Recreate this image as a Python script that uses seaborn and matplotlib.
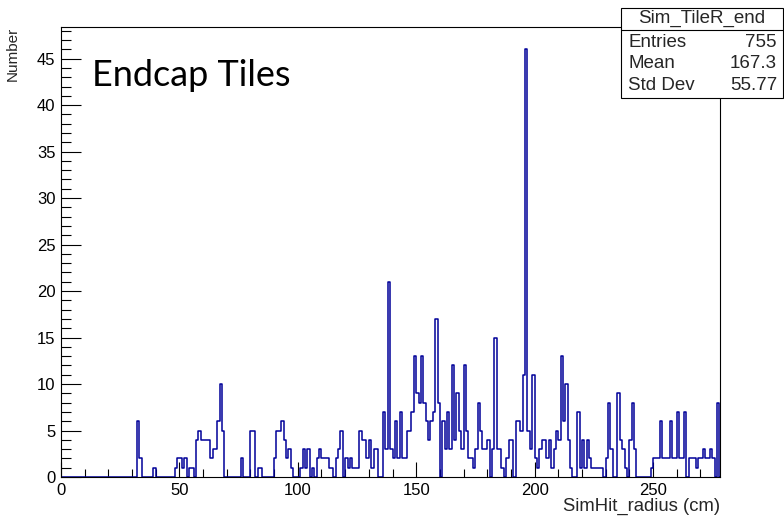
import numpy as np
import pandas as pd
import matplotlib
matplotlib.use("Agg")
import matplotlib.pyplot as plt
import seaborn as sns
from matplotlib.patches import Rectangle
from matplotlib.lines import Line2D
from matplotlib.ticker import MultipleLocator

# ---- data (1 cm wide bins, value = lower bin edge) ----
bin_lo = [32, 33, 39, 48, 49, 50, 51, 52, 54, 55, 57, 58, 59, 60, 61, 62, 63, 64, 65, 66, 67, 68,
          76, 80, 81, 83, 84, 90, 91, 92, 93, 94, 95, 96, 97, 101, 102, 103, 104, 106, 108, 109,
          110, 111, 112, 113, 114, 116, 117, 118, 120, 121, 122, 123, 124, 125, 126, 127, 128,
          129, 130, 131, 132, 133, 136, 137, 138, 139, 140, 141, 142, 143, 144, 145, 146, 147,
          148, 149, 150, 151, 152, 153, 154, 155, 156, 157, 158, 159, 161, 162, 163, 164, 165,
          166, 167, 168, 169, 170, 171, 172, 173, 174, 175, 176, 177, 178, 179, 180, 182, 183,
          184, 185, 186, 188, 189, 190, 192, 193, 194, 195, 196, 197, 198, 199, 200, 201, 202,
          203, 204, 205, 206, 207, 208, 209, 210, 211, 212, 213, 214, 215, 218, 219, 220, 221,
          222, 223, 224, 225, 226, 227, 228, 230, 231, 232, 235, 236, 237, 238, 240, 241, 242,
          249, 250, 251, 252, 253, 254, 255, 256, 257, 258, 259, 260, 261, 262, 263, 265, 266,
          267, 268, 269, 270, 271, 272, 273, 274, 275, 277]
bin_count = [6, 2, 1, 1, 2, 2, 1, 2, 1, 1, 4, 5, 4, 4, 4, 4, 2, 3, 3, 6, 10, 5,
             2, 5, 5, 1, 1, 2, 5, 5, 6, 4, 2, 3, 1, 1, 3, 1, 3, 1, 2, 3,
             2, 2, 2, 1, 1, 2, 3, 5, 2, 1, 2, 1, 1, 1, 5, 4, 4,
             2, 4, 1, 3, 3, 7, 3, 21, 3, 2, 6, 2, 7, 2, 2, 5, 5,
             7, 13, 9, 8, 13, 8, 6, 4, 6, 7, 17, 8, 6, 3, 7, 3, 12,
             4, 9, 5, 3, 12, 5, 2, 2, 1, 3, 8, 5, 3, 3, 4, 3, 15,
             3, 3, 1, 2, 4, 4, 6, 6, 5, 11, 46, 5, 3, 11, 2, 1, 3,
             4, 4, 2, 4, 1, 3, 5, 4, 13, 6, 10, 4, 1, 7, 1, 4, 1,
             4, 2, 1, 1, 1, 1, 1, 2, 8, 3, 9, 4, 3, 1, 4, 8, 3,
             1, 2, 2, 2, 6, 2, 2, 2, 6, 2, 2, 7, 2, 2, 7, 2, 2,
             2, 1, 2, 2, 3, 2, 2, 3, 2, 8]
bin_edges = list(range(0, 280))
x_ticks = [0, 50, 100, 150, 200, 250]
y_ticks = [0, 5, 10, 15, 20, 25, 30, 35, 40, 45]
hist_name = "Sim_TileR_end"
stat_names = ["Entries", "Mean", "Std Dev"]
stat_values = ["755", "167.3", "55.77"]

df = pd.DataFrame({"radius": np.array(bin_lo) + 0.5, "n": bin_count})

W, H = 784, 518
fig = plt.figure(figsize=(W / 100, H / 100), dpi=100)
sns.set_style("ticks")
plt.rcParams["font.family"] = ["Liberation Sans", "DejaVu Sans"]

L, R, T, B = 61, 720, 27, 477
ax = fig.add_axes([L / W, 1 - B / H, (R - L) / W, (B - T) / H])
sns.histplot(data=df, x="radius", weights="n", bins=bin_edges, element="step",
             fill=False, color="#000099", linewidth=1.1, ax=ax)
ax.set_xlim(0, 278.3)
ax.set_ylim(0, 48.4)
ax.set_xticks(x_ticks)
ax.set_yticks(y_ticks)
ax.xaxis.set_minor_locator(MultipleLocator(10))
ax.yaxis.set_minor_locator(MultipleLocator(1))
ax.tick_params(axis="both", which="both", direction="in", labelsize=12, colors="black", pad=4)
ax.tick_params(axis="x", which="major", length=10.8, width=0.8)
ax.tick_params(axis="x", which="minor", length=5.8, width=0.8)
ax.tick_params(axis="y", which="major", length=14.4, width=0.8)
ax.tick_params(axis="y", which="minor", length=7.2, width=0.8)
for s in ax.spines.values():
    s.set_linewidth(0.8)
    s.set_color("black")
ax.set_facecolor("white")

ax.set_xlabel("SimHit_radius (cm)", fontsize=13.3, loc="right")
ax.xaxis.set_label_coords(1.0, -(498 - B) / (B - T))
ax.set_ylabel("Number", fontsize=11, loc="top")
ax.yaxis.set_label_coords(-(L - 20) / (R - L), 1.0)

ax.text((92 - L) / (R - L), (B - 75) / (B - T), "Endcap Tiles", fontsize=26,
        family=["Lato", "DejaVu Sans"], va="center", ha="left", color="black",
        transform=ax.transAxes)

# stats box
bx0, bx1, by0, by1, bsep = 621, 783, 8, 98, 30
fig.patches.append(Rectangle((bx0 / W, 1 - by1 / H), (bx1 - bx0) / W, (by1 - by0) / H,
                             transform=fig.transFigure, facecolor="white",
                             edgecolor="black", linewidth=0.8, zorder=5))
fig.lines.append(Line2D([bx0 / W, bx1 / W], [1 - bsep / H, 1 - bsep / H],
                        transform=fig.transFigure, color="black", linewidth=0.8, zorder=6))
fig.text((bx0 + bx1) / 2 / W, 1 - 18 / H, hist_name, ha="center", va="center",
         fontsize=13.5, zorder=7)
for i, (nm, vl) in enumerate(zip(stat_names, stat_values)):
    yy = 1 - (42 + 21.5 * i) / H
    fig.text(628 / W, yy, nm, ha="left", va="center", fontsize=13.5, zorder=7)
    fig.text(777 / W, yy, vl, ha="right", va="center", fontsize=13.5, zorder=7)

fig.savefig("out.png", dpi=100, facecolor="white")
